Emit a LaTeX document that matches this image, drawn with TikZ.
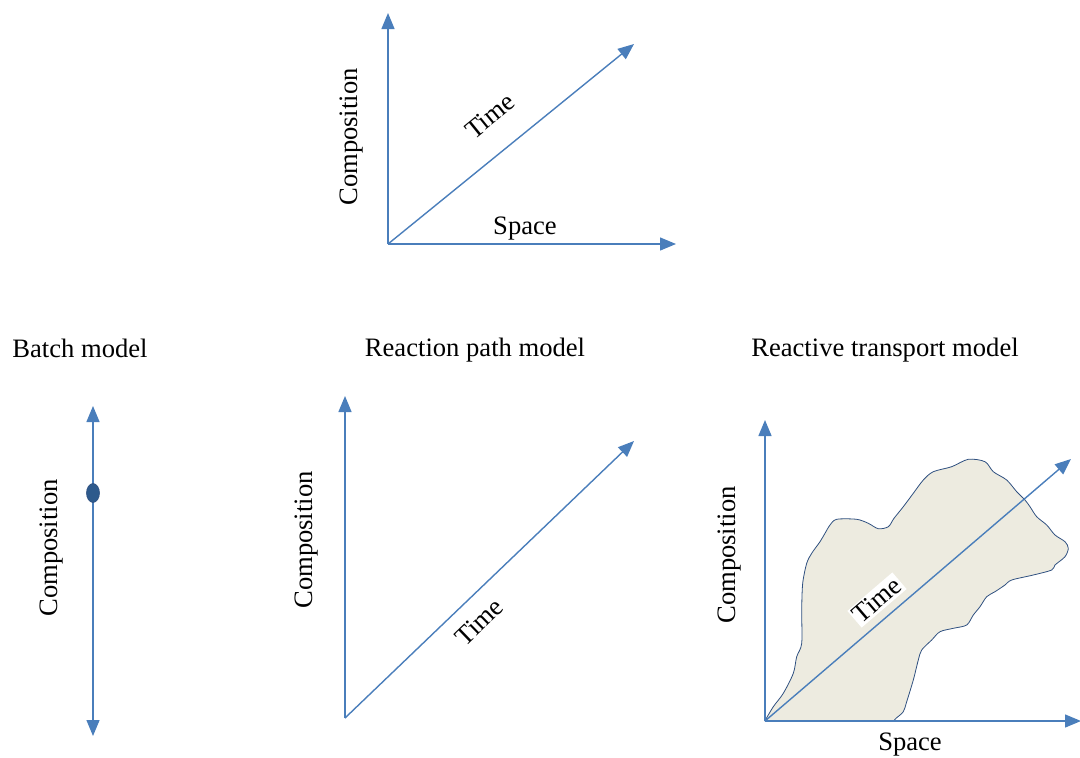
\documentclass[tikz,border=0pt]{standalone}
\usepackage{fontspec}
\setmainfont{Liberation Serif}
\usetikzlibrary{arrows.meta,shapes.geometric}
\definecolor{axblue}{HTML}{4A7EBB}
\definecolor{blobfill}{HTML}{EDEBE0}
\definecolor{blobline}{HTML}{2F5080}
\definecolor{dotblue}{HTML}{2E5A8C}
\tikzset{
  ax/.style={draw=axblue, line width=1.4pt, -{Triangle[length=16pt,width=13pt]}},
  axboth/.style={draw=axblue, line width=1.4pt, {Triangle[length=16pt,width=13pt]}-{Triangle[length=16pt,width=13pt]}},
  lbl/.style={font=\fontsize{26.6}{30}\selectfont, inner sep=1pt},
}
\begin{document}
\begin{tikzpicture}[x=1pt,y=-1pt]
\useasboundingbox (0,0) rectangle (1080,758);
% ---------- top diagram ----------
\coordinate (o0) at (388,244);
\coordinate (c0) at (388,13);
\coordinate (s0) at (676,244);
\coordinate (t0) at (634,44);
\draw[ax] (o0) -- (c0);
\draw[ax] (o0) -- (s0);
\draw[ax] (o0) -- (t0);
\node[lbl, rotate=90] (comp0) at (352,137) {Composition};
\node[lbl, rotate=39] (time0) at (490,116) {Time};
\node[lbl] (space0) at (525,229) {Space};
% ---------- titles ----------
\node[lbl] (batch) at (80,348) {Batch model};
\node[lbl] (rpath) at (475,350) {Reaction path model};
\node[lbl] (rtrans) at (885,350) {Reactive transport model};
% ---------- batch model ----------
\coordinate (b1) at (93,406);
\coordinate (b2) at (93,736);
\draw[axboth] (b2) -- (b1);
\node[draw=blobline, fill=dotblue, ellipse, minimum width=13pt, minimum height=19pt, inner sep=0pt, line width=0.6pt] (dot) at (93,493) {};
\node[lbl, rotate=90] (comp1) at (52,548) {Composition};
% ---------- reaction path model ----------
\coordinate (o2) at (345,718);
\coordinate (c2) at (345,396);
\coordinate (t2) at (634,441);
\draw[ax] (o2) -- (c2);
\draw[ax] (o2) -- (t2);
\node[lbl, rotate=90] (comp2) at (307,540) {Composition};
\node[lbl, rotate=44] (time2) at (479,622) {Time};
% ---------- reactive transport model ----------
\coordinate (o3) at (765,721);
\filldraw[fill=blobfill, draw=blobline, line width=0.8pt] plot[smooth, tension=0.5] coordinates {
(765,720.7) (773.3,706.7) (783.3,693.3) (793.3,673.3) (796.7,656.7) (801.7,643.3)
(801.7,610) (802.7,583.3) (806.7,563.3) (811.7,553.3) (820,541.7) (825,533.3)
(830,525) (836.7,519.3) (856.7,519.3) (868.3,523.3) (878.3,528.7) (888.3,526.7)
(894,518.3) (903.3,506.7) (913.3,493.3) (923.3,480) (933.3,471.7) (951.7,466.7)
(968.3,459.3) (985,461.7) (993.3,471.7) (1006.7,480) (1016.7,491.7) (1025,500)
(1030,506.7) (1036.7,516.7) (1046.7,525) (1055,535) (1065,541.7) (1068.3,548.3)
(1065,556.7) (1055,565) (1051.7,570) (1033.3,575) (1011.7,580) (1005,585)
(995,591.7) (986.7,596.7) (980,606.7) (973.3,615) (966.7,625) (953.3,628.3)
(940,631.7) (931.7,640) (921.7,650) (918.3,660) (913.3,680) (906.7,701.7)
(903.3,711.7) (896,718.3) (894,720.7)} -- cycle;
\coordinate (c3) at (765,420);
\coordinate (s3) at (1081,721);
\coordinate (t3) at (1071,459);
\draw[ax] (o3) -- (c3);
\draw[ax] (o3) -- (s3);
\draw[ax] (o3) -- (t3);
\node[lbl, rotate=90] (comp3) at (730,555) {Composition};
\node[lbl, rotate=40.6, fill=white, inner sep=2pt] (time3) at (877,600) {Time};
\node[lbl] (space3) at (910,745) {Space};
\end{tikzpicture}
\end{document}
